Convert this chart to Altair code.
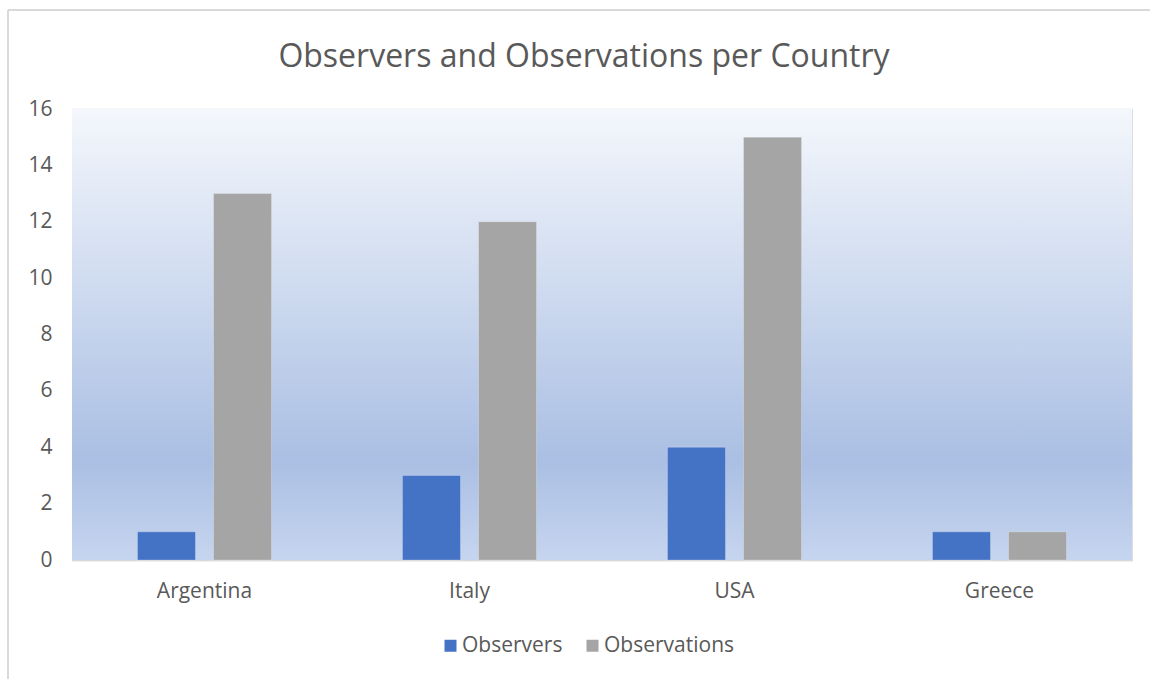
import altair as alt
import pandas as pd

title_text = "Observers and Observations per Country"
countries = ["Argentina", "Italy", "USA", "Greece"]
observers = [1, 3, 4, 1]
observations = [13, 12, 15, 1]
series = ["Observers", "Observations"]
colors = ["#4472c4", "#a5a5a5"]

rows = []
for c, a, b in zip(countries, observers, observations):
    rows.append({"Country": c, "Series": "Observers", "Value": a})
    rows.append({"Country": c, "Series": "Observations", "Value": b})
df = pd.DataFrame(rows)

FONT = "Open Sans"
GRAY = "#595959"
LBL = 21

one = pd.DataFrame({"k": [0]})

bg = alt.Chart(one).mark_rect(
    color=alt.LinearGradient(gradient="linear", x1=0, y1=0, x2=0, y2=1,
                             stops=[alt.GradientStop(offset=0, color="#f4f7fc"),
                                    alt.GradientStop(offset=0.78, color="#aabfe3"),
                                    alt.GradientStop(offset=1, color="#c6d5ef")])
).encode(x=alt.value(0), x2=alt.value(1060), y=alt.value(0), y2=alt.value(451))

bars = alt.Chart(df).mark_bar(stroke="#ffffff", strokeOpacity=0.25, strokeWidth=1).encode(
    x=alt.X("Country:N", sort=countries,
            scale=alt.Scale(paddingInner=0.494, paddingOuter=0.247),
            axis=alt.Axis(title=None, labelAngle=0, ticks=False, domain=True,
                          domainColor="#d9d9d9", domainWidth=1.5,
                          labelPadding=20, labelFontSize=LBL, labelColor=GRAY,
                          labelFont=FONT, grid=False)),
    xOffset=alt.XOffset("Series:N", sort=series,
                        scale=alt.Scale(paddingInner=0.237, paddingOuter=0)),
    y=alt.Y("Value:Q", scale=alt.Scale(domain=[0, 16], nice=False),
            axis=alt.Axis(title=None, values=list(range(0, 17, 2)), ticks=False,
                          domain=False, gridColor="#d9d9d9", gridWidth=1.5,
                          labelPadding=20, labelFontSize=LBL, labelColor=GRAY,
                          labelFont=FONT)),
    color=alt.Color("Series:N", sort=series,
                    scale=alt.Scale(domain=series, range=colors),
                    legend=alt.Legend(title=None, orient="none", direction="horizontal",
                                      legendX=368, legendY=526,
                                      symbolType="square", symbolSize=144,
                                      symbolStrokeWidth=0, labelFontSize=LBL,
                                      labelColor=GRAY, labelFont=FONT,
                                      columnPadding=19, labelOffset=1)),
)

title = alt.Chart(one).mark_text(
    text=title_text, font=FONT, fontSize=32, color=GRAY, align="center",
    baseline="alphabetic"
).encode(x=alt.value(512), y=alt.value(-42))

border = alt.Chart(one).mark_rule(color="#d9d9d9", strokeWidth=2).encode(
    x=alt.value(-64), x2=alt.value(1100), y=alt.value(-99)
)
border_left = alt.Chart(one).mark_rule(color="#d9d9d9", strokeWidth=2).encode(
    x=alt.value(-64), y=alt.value(-99), y2=alt.value(600)
)

chart = alt.layer(bg, bars, title, border, border_left).properties(
    width=1060, height=451,
    padding={"left": 72, "top": 109, "right": 18, "bottom": 119},
    autosize=alt.AutoSizeParams(type="none"),
).configure_view(
    stroke=None,
).configure(background="white")

chart.save("out.html", embed_options={"renderer": "svg", "actions": False})
